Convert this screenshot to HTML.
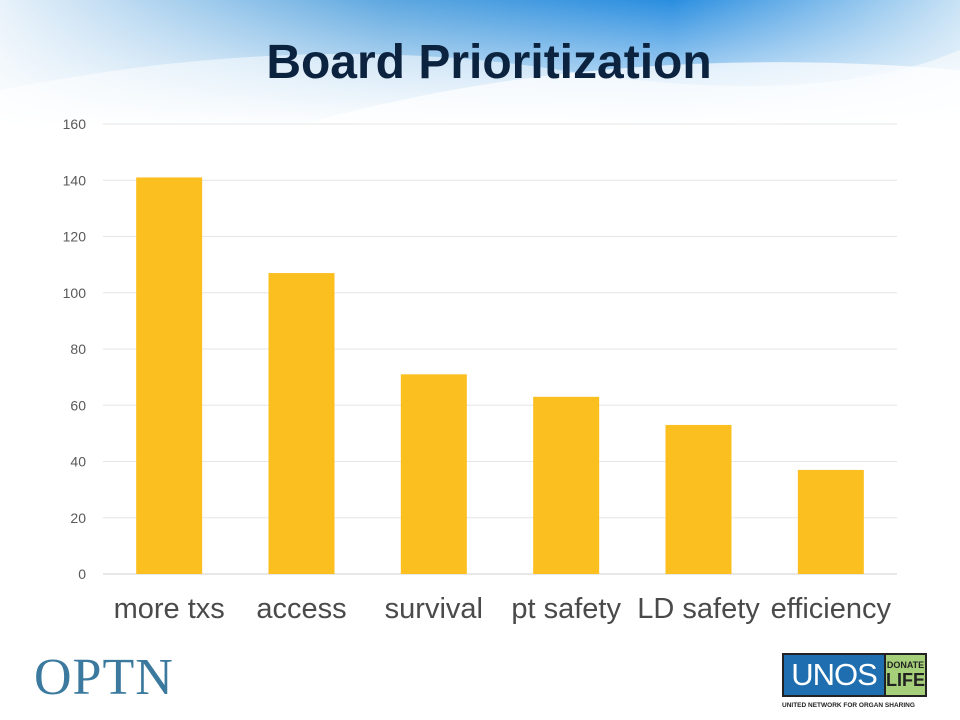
<!DOCTYPE html>
<html><head><meta charset="utf-8"><style>
body{margin:0;width:960px;height:720px;overflow:hidden;background:#fff;font-family:"Liberation Sans",sans-serif;position:relative}
.hdr{position:absolute;left:0;top:0;width:960px;height:125px}
h1{position:absolute;left:0;width:978px;top:35px;margin:0;text-align:center;font-size:48px;font-weight:bold;color:#0c2340}
</style></head><body>
<svg class="hdr" width="960" height="130">
<defs>
<linearGradient id="g1" x1="0" y1="0" x2="1" y2="0"><stop offset="0" stop-color="#e8f2fa"/><stop offset="0.4" stop-color="#5fa8e0"/><stop offset="0.7" stop-color="#2a8ee0"/><stop offset="1" stop-color="#c8e2f5"/></linearGradient>
<linearGradient id="g2" x1="0" y1="0" x2="0" y2="1"><stop offset="0" stop-color="#fff" stop-opacity="0"/><stop offset="1" stop-color="#fff" stop-opacity="1"/></linearGradient>
</defs>
<rect width="960" height="130" fill="url(#g1)"/>
<rect width="960" height="130" fill="url(#g2)"/>
<path d="M0 90 Q300 30 560 70 T960 50 L960 130 L0 130Z" fill="#fff" opacity="0.5"/>
<path d="M300 125 Q600 40 960 70 L960 130 L300 130Z" fill="#fff" opacity="0.7"/>
</svg>
<h1>Board Prioritization</h1>
<svg id="chart" width="960" height="720" style="position:absolute;left:0;top:0"></svg>
<div style="position:absolute;left:34px;top:648px;font-family:'Liberation Serif',serif;font-size:52px;color:#3b7a9e;letter-spacing:1px">OPTN</div>
<div style="position:absolute;left:782px;top:653px;width:145px;height:44px;background:#222">
<div style="position:absolute;left:2px;top:2px;width:100px;height:40px;background:#1f6fb0;color:#fff;font-family:'Liberation Sans',sans-serif;font-size:31px;line-height:40px;text-align:center;letter-spacing:-1px">UNOS</div>
<div style="position:absolute;left:104px;top:2px;width:39px;height:40px;background:#a6cf7a;color:#222;font-weight:bold;text-align:center"><div style="font-size:9px;margin-top:5px">DONATE</div><div style="font-size:18px;line-height:20px">LIFE</div></div>
</div>
<div style="position:absolute;left:782px;top:702px;font-size:6.5px;font-weight:bold;color:#222">UNITED NETWORK FOR ORGAN SHARING</div>
<script>
const categories=["more txs","access","survival","pt safety","LD safety","efficiency"];
const values=[141,107,71,63,53,37];
const ticks=[0,20,40,60,80,100,120,140,160];
const svg=document.getElementById('chart');const NS='http://www.w3.org/2000/svg';
const x0=103,x1=897,yb=574,yt=124,maxV=160;
const y=v=>yb-(v/maxV)*(yb-yt);
const bw=(x1-x0)/categories.length;
function mk(t,a){const e=document.createElementNS(NS,t);for(const k in a)e.setAttribute(k,a[k]);svg.appendChild(e);return e;}
ticks.forEach(t=>{
const l=mk('line',{x1:x0,x2:x1,y1:y(t),y2:y(t),stroke:t===0?'#d0d0d0':'#e6e6e6','stroke-width':1});


const tx=mk('text',{x:86,y:y(t)+5,'text-anchor':'end','font-size':14,fill:'#595959','font-family':'Liberation Sans, sans-serif'});
tx.textContent=t;


});
categories.forEach((c,i)=>{
const cx=x0+bw*(i+0.5);
const r=mk('rect',{x:cx-33,y:y(values[i]),width:66,height:yb-y(values[i]),fill:'#fbbf1f'});


const t=mk('text',{x:cx,y:618,'text-anchor':'middle','font-size':29,fill:'#4a4a4a','font-family':'Liberation Sans, sans-serif'});
t.textContent=c;


});
</script>
</body></html>
